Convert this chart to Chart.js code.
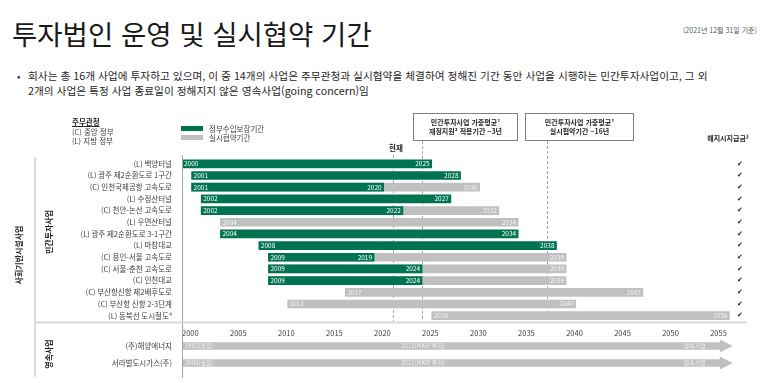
<!DOCTYPE html>
<html lang="ko">
<head>
<meta charset="utf-8">
<script src="https://cdn.jsdelivr.net/npm/chart.js@4.4.1/dist/chart.umd.min.js"></script>
<style>
  body { margin: 0; width: 773px; height: 383px; position: relative; background: #fff; overflow: hidden;
         font-family: "Noto Sans CJK KR", "Noto Sans", sans-serif; color: #262626; }
  .abs { position: absolute; white-space: nowrap; }
  canvas { position: absolute; left: 0; }
  #title { left: 12px; top: 16px; font-size: 27.5px; line-height: 34px; color: #1a1a1a; }
  #asof { left: 683px; top: 26px; font-size: 7px; line-height: 9px; color: #595959; }
  #bullet { left: 17px; top: 68px; font-size: 10px; line-height: 15px; }
  #intro { left: 28px; top: 68px; font-size: 10.7px; line-height: 15px; color: #262626; }
  .small { font-size: 7.5px; line-height: 9px; color: #404040; }
  .box { position: absolute; top: 113px; height: 28px; box-sizing: border-box; border: 1px solid #7f7f7f;
         display: flex; align-items: center; justify-content: center; text-align: center;
         font-size: 7px; line-height: 9px; font-weight: bold; color: #262626; }
  .vert { position: absolute; white-space: nowrap; font-size: 8px; font-weight: bold; color: #262626;
          transform: translate(-50%, -50%) rotate(-90deg); }
  .swatch { position: absolute; left: 181px; width: 22px; }
</style>
</head>
<body>
<canvas id="topChart" width="773" height="228" style="top:100px"></canvas>
<canvas id="bottomChart" width="773" height="57" style="top:326px"></canvas>

<div id="title" class="abs">투자법인 운영 및 실시협약 기간</div>
<div id="asof" class="abs">(2021년 12월 31일 기준)</div>
<div id="bullet" class="abs">•</div>
<div id="intro" class="abs">회사는 총 16개 사업에 투자하고 있으며, 이 중 14개의 사업은 주무관청과 실시협약을 체결하여 정해진 기간 동안 사업을 시행하는 민간투자사업이고, 그 외<br>2개의 사업은 특정 사업 종료일이 정해지지 않은 영속사업(going concern)임</div>

<div class="abs small" style="left:72px;top:117px;font-weight:bold;text-decoration:underline;color:#262626">주무관청</div>
<div class="abs small" style="left:72px;top:126.5px">(C) 중앙 정부</div>
<div class="abs small" style="left:72px;top:135.5px">(L) 지방 정부</div>

<div class="swatch" style="top:126px;height:5px;background:#007351"></div>
<div class="swatch" style="top:135px;height:5px;background:#c0c0c0"></div>
<div class="abs small" style="left:209px;top:124px">정부수입보장기간</div>
<div class="abs small" style="left:209px;top:133px">실시협약기간</div>

<div class="box" style="left:413px;width:105px">민간투자사업 가중평균¹<br>재정지원² 적용기간 ~3년</div>
<div class="box" style="left:525px;width:109px">민간투자사업 가중평균¹<br>실시협약기간 ~16년</div>
<div class="abs small" style="left:381px;top:143px;width:30px;text-align:center;font-weight:bold;color:#262626">현재</div>
<div class="abs" style="left:698px;top:134px;width:60px;text-align:center;font-size:7px;line-height:9px;font-weight:bold">해지시지급금³</div>

<div class="abs" style="left:34px;top:157px;width:2px;height:220px;background:#d9d9d9"></div>
<div class="vert" style="left:18px;top:255px">사회기반시설사업</div>
<div class="vert" style="left:48px;top:232px">민간투자사업</div>
<div class="vert" style="left:48px;top:354px">영속사업</div>

<script>
const projects = [
  '(L) 백양터널', '(L) 광주 제2순환도로 1구간', '(C) 인천국제공항 고속도로', '(L) 수정산터널',
  '(C) 천안-논산 고속도로', '(L) 우면산터널', '(L) 광주 제2순환도로 3-1구간', '(L) 마창대교',
  '(C) 용인-서울 고속도로', '(C) 서울-춘천 고속도로', '(C) 인천대교', '(C) 부산항신항 제2배후도로',
  '(C) 부산항 신항 2-3단계', '(L) 동북선 도시철도⁴'
];
const startYears    = [2000, 2001, 2001, 2002, 2002, 2004, 2004, 2008, 2009, 2009, 2009, 2017, 2011, 2026];
const guaranteeEnd  = [2025, 2028, 2020, 2027, 2022, null, 2034, 2038, 2019, 2024, 2024, null, null, null];
const contractEnd   = [null, null, 2030, null, 2032, 2034, null, null, 2039, 2039, 2039, 2047, 2040, 2056];
const terminationPay = [true, true, true, true, true, true, true, true, true, true, true, true, true, true];

const goingConcerns = ['(주)해양에너지', '서라벌도시가스(주)'];
const foundedYears  = [1982, 2000];
const mkifYears     = [2021, 2021];

const yearTicks = [2000, 2005, 2010, 2015, 2020, 2025, 2030, 2035, 2040, 2045, 2050, 2055];
const asOfYear = 2021;
const avgSupportYears = 3;
const avgContractYears = 16;

const GREEN = '#007351';
const GREY = '#c0c0c0';
const FONT = '"Noto Sans CJK KR", "Noto Sans", sans-serif';
const X_MIN = 2000, X_MAX = 2058;

// a year's bar runs to the end of that year
const endOf = y => y + 1;

const greenData = startYears.map((s, i) => guaranteeEnd[i] ? [s, endOf(guaranteeEnd[i])] : null);
const greyData = startYears.map((s, i) => contractEnd[i] ? [s, endOf(contractEnd[i])] : null);

function fixWidth(scale) { scale.width = 182; }

const topDecor = {
  id: 'topDecor',
  beforeDatasetsDraw(chart) {
    const { ctx, chartArea, scales: { x } } = chart;
    const now = endOf(asOfYear);
    ctx.save();
    ctx.strokeStyle = '#a6a6a6';
    ctx.lineWidth = 1;
    ctx.setLineDash([3, 2]);
    [[now, 55], [now + avgSupportYears, 41], [now + avgContractYears, 41]].forEach(([v, top]) => {
      const px = Math.round(x.getPixelForValue(v)) + 0.5;
      ctx.beginPath();
      ctx.moveTo(px, top);
      ctx.lineTo(px, chartArea.bottom);
      ctx.stroke();
    });
    ctx.restore();
  },
  afterDatasetsDraw(chart) {
    const { ctx } = chart;
    const green = chart.getDatasetMeta(0).data;
    const grey = chart.getDatasetMeta(1).data;
    ctx.save();
    ctx.font = '6.5px ' + FONT;
    ctx.textBaseline = 'middle';
    projects.forEach((p, i) => {
      const g = guaranteeEnd[i] ? green[i] : null;
      const c = contractEnd[i] ? grey[i] : null;
      if (c) {
        ctx.fillStyle = '#f2f2f2';
        ctx.textAlign = 'right';
        ctx.fillText(String(contractEnd[i]), c.x - 2, c.y);
        if (!g) {
          ctx.textAlign = 'left';
          ctx.fillText(String(startYears[i]), c.base + 2, c.y);
        }
      }
      if (g) {
        ctx.fillStyle = '#ffffff';
        ctx.textAlign = 'left';
        ctx.fillText(String(startYears[i]), g.base + 2, g.y);
        ctx.textAlign = 'right';
        ctx.fillText(String(guaranteeEnd[i]), g.x - 2, g.y);
      }
    });
    ctx.restore();
  },
  afterDraw(chart) {
    const { ctx, chartArea, scales: { x, y } } = chart;
    ctx.save();
    // axis line
    const ax = Math.round(x.getPixelForValue(X_MIN)) + 0.5;
    ctx.strokeStyle = '#a6a6a6';
    ctx.lineWidth = 1;
    ctx.beginPath();
    ctx.moveTo(ax, chartArea.top - 3);
    ctx.lineTo(ax, chart.height);
    ctx.stroke();
    // separator
    ctx.strokeStyle = '#d9d9d9';
    ctx.lineWidth = 2;
    ctx.beginPath();
    ctx.moveTo(35, chartArea.bottom + 1);
    ctx.lineTo(747, chartArea.bottom + 1);
    ctx.stroke();
    // check marks
    ctx.fillStyle = '#262626';
    ctx.font = '7px "DejaVu Sans"';
    ctx.textAlign = 'center';
    ctx.textBaseline = 'middle';
    terminationPay.forEach((t, i) => {
      if (t) ctx.fillText('✔', 740, y.getPixelForValue(i));
    });
    ctx.restore();
  }
};

new Chart(document.getElementById('topChart'), {
  type: 'bar',
  data: {
    labels: projects,
    datasets: [
      { label: '정부수입보장기간', data: greenData, backgroundColor: GREEN, order: 0 },
      { label: '실시협약기간', data: greyData, backgroundColor: GREY, order: 1 }
    ]
  },
  options: {
    indexAxis: 'y',
    responsive: false,
    animation: false,
    devicePixelRatio: 1,
    layout: { padding: { top: 58, bottom: 4, right: 34, left: 0 } },
    datasets: { bar: { grouped: false, barThickness: 8, borderWidth: 0 } },
    plugins: { legend: { display: false }, tooltip: { enabled: false } },
    scales: {
      x: { type: 'linear', min: X_MIN, max: X_MAX, display: false },
      y: {
        afterFit: fixWidth,
        grid: { display: false },
        border: { display: false },
        ticks: { autoSkip: false, padding: 2, color: '#404040', font: { family: FONT, size: 7.5 } }
      }
    }
  },
  plugins: [topDecor]
});

const bottomDecor = {
  id: 'bottomDecor',
  afterDatasetsDraw(chart) {
    const { ctx, chartArea } = chart;
    const bars = chart.getDatasetMeta(0).data;
    ctx.save();
    ctx.fillStyle = GREY;
    bars.forEach(b => {
      // arrow head
      ctx.beginPath();
      ctx.moveTo(b.x, b.y - 6.5);
      ctx.lineTo(b.x + 13, b.y);
      ctx.lineTo(b.x, b.y + 6.5);
      ctx.closePath();
      ctx.fill();
    });
    ctx.font = '6px ' + FONT;
    ctx.textBaseline = 'middle';
    ctx.fillStyle = '#eeeeee';
    bars.forEach((b, i) => {
      const left = Math.max(b.base, chartArea.left);
      ctx.textAlign = 'left';
      ctx.fillText(foundedYears[i] + '(설립)', left + 3, b.y);
      ctx.fillText(mkifYears[i] + '(MKIF 투자)', chart.scales.x.getPixelForValue(endOf(mkifYears[i])) + 8, b.y);
      ctx.textAlign = 'right';
      ctx.fillText('영속사업', b.x - 14, b.y);
    });
    ctx.restore();
  },
  afterDraw(chart) {
    const { ctx, scales: { x } } = chart;
    const ax = Math.round(x.getPixelForValue(X_MIN)) + 0.5;
    ctx.save();
    ctx.strokeStyle = '#a6a6a6';
    ctx.lineWidth = 1;
    ctx.beginPath();
    ctx.moveTo(ax, 0);
    ctx.lineTo(ax, chart.height - 5);
    ctx.stroke();
    ctx.restore();
  }
};

new Chart(document.getElementById('bottomChart'), {
  type: 'bar',
  data: {
    labels: goingConcerns,
    datasets: [
      { label: '영속사업', data: foundedYears.map(f => [f, X_MAX - 2]), backgroundColor: GREY }
    ]
  },
  options: {
    indexAxis: 'y',
    responsive: false,
    animation: false,
    devicePixelRatio: 1,
    layout: { padding: { top: 0, bottom: 11.5, right: 34, left: 0 } },
    datasets: { bar: { barThickness: 7, borderWidth: 0 } },
    plugins: { legend: { display: false }, tooltip: { enabled: false } },
    scales: {
      x: {
        type: 'linear', position: 'top', min: X_MIN, max: X_MAX,
        afterFit(scale) { scale.height = 11.5; },
        afterBuildTicks(scale) { scale.ticks = yearTicks.map(v => ({ value: v })); },
        grid: { display: false, drawTicks: false },
        border: { display: false },
        ticks: {
          padding: 0, align: 'start', color: '#404040', font: { family: FONT, size: 7.5 },
          callback: v => String(v)
        }
      },
      y: {
        afterFit: fixWidth,
        grid: { display: false },
        border: { display: false },
        ticks: { autoSkip: false, padding: 2, color: '#404040', font: { family: FONT, size: 7.5 } }
      }
    }
  },
  plugins: [bottomDecor]
});
</script>
</body>
</html>
